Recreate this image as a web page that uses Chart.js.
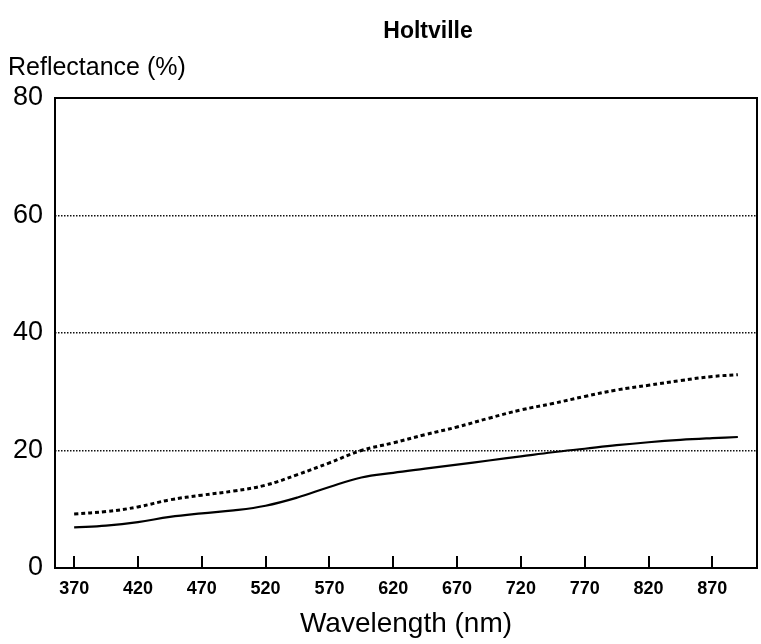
<!DOCTYPE html>
<html lang="en">
<head>
    <meta charset="UTF-8">
    <title>Holtville</title>
    <script src="https://cdn.jsdelivr.net/npm/chart.js"></script>
    <style>
        html, body { margin: 0; padding: 0; background: #fff; }
        #wrap { width: 761px; height: 644px; }
    </style>
</head>
<body>
    <div id="wrap"><canvas id="reflChart"></canvas></div>

    <script>
        // values
        const chartTitle = "Holtville";
        const yTitle = "Reflectance (%)";
        const xTitle = "Wavelength (nm)";
        const wavelengths = [370, 395, 420, 445, 470, 495, 520, 545, 570, 595, 620, 645, 670, 695, 720, 745, 770, 795, 820, 845, 870, 890];
        const solidValues = [6.9, 7.2, 7.8, 8.7, 9.3, 9.8, 10.6, 12.0, 13.8, 15.4, 16.2, 16.9, 17.6, 18.3, 19.0, 19.7, 20.3, 20.9, 21.4, 21.8, 22.1, 22.3];
        const dashedValues = [9.2, 9.6, 10.4, 11.6, 12.4, 13.1, 14.1, 15.9, 17.9, 20.0, 21.3, 22.7, 24.0, 25.5, 26.9, 28.0, 29.2, 30.3, 31.1, 31.9, 32.6, 32.9];
        const xTicks = [370, 420, 470, 520, 570, 620, 670, 720, 770, 820, 870];
        const yTicks = [0, 20, 40, 60, 80];

        const FONT = "'Liberation Sans', Arial, sans-serif";

        function toPoints(xs, ys) {
            return xs.map(function (x, i) { return { x: x, y: ys[i] }; });
        }

        // frame, inward x ticks and the two titles at the top
        const framePlugin = {
            id: "frame",
            afterDraw: function (chart) {
                let ctx = chart.ctx;
                let a = chart.chartArea;
                let xs = chart.scales.x;
                ctx.save();
                ctx.strokeStyle = "#000";
                ctx.lineWidth = 2;
                ctx.strokeRect(a.left, a.top, a.right - a.left, a.bottom - a.top);
                xTicks.forEach(function (t) {
                    let px = Math.round(xs.getPixelForValue(t));
                    ctx.beginPath();
                    ctx.moveTo(px, a.bottom);
                    ctx.lineTo(px, a.bottom - 12);
                    ctx.stroke();
                });
                ctx.fillStyle = "#000";
                ctx.textBaseline = "middle";
                ctx.textAlign = "center";
                ctx.font = "bold 23px " + FONT;
                ctx.fillText(chartTitle, 428, 32);
                ctx.textAlign = "left";
                ctx.font = "25px " + FONT;
                ctx.fillText(yTitle, 8, 68);
                ctx.restore();
            }
        };

        let ctx = document.getElementById("reflChart").getContext("2d");

        new Chart(ctx, {
            type: "line",
            data: {
                datasets: [{
                    label: "solid",
                    data: toPoints(wavelengths, solidValues),
                    borderColor: "#000",
                    borderWidth: 2.2,
                    pointRadius: 0,
                    tension: 0.4,
                    fill: false
                }, {
                    label: "dashed",
                    data: toPoints(wavelengths, dashedValues),
                    borderColor: "#000",
                    borderWidth: 3,
                    borderDash: [4, 3],
                    pointRadius: 0,
                    tension: 0.4,
                    fill: false
                }]
            },
            options: {
                responsive: true,
                maintainAspectRatio: false,
                animation: false,
                layout: { padding: { top: 98, right: 4, left: 0, bottom: 0 } },
                plugins: {
                    legend: { display: false },
                    tooltip: { enabled: false }
                },
                scales: {
                    x: {
                        type: "linear",
                        min: 355,
                        max: 905,
                        afterBuildTicks: function (axis) {
                            axis.ticks = xTicks.map(function (v) { return { value: v }; });
                        },
                        afterFit: function (axis) { axis.height = 76; },
                        grid: { display: false, drawTicks: false },
                        border: { display: false },
                        ticks: {
                            color: "#000",
                            padding: 10,
                            maxRotation: 0,
                            autoSkip: false,
                            font: { family: FONT, size: 18, weight: "bold" }
                        },
                        title: {
                            display: true,
                            text: xTitle,
                            color: "#000",
                            padding: { top: 0, bottom: 3 },
                            font: { family: FONT, size: 28 }
                        }
                    },
                    y: {
                        min: 0,
                        max: 80,
                        afterBuildTicks: function (axis) {
                            axis.ticks = yTicks.map(function (v) { return { value: v }; });
                        },
                        afterFit: function (axis) { axis.width = 55; },
                        grid: {
                            drawTicks: false,
                            lineWidth: 1.5,
                            color: function (c) {
                                let v = c.tick ? c.tick.value : null;
                                return (v === 0 || v === 80) ? "rgba(0,0,0,0)" : "#111";
                            }
                        },
                        border: { display: false, dash: [1.5, 1.5] },
                        ticks: {
                            color: "#000",
                            padding: 12,
                            font: { family: FONT, size: 27 }
                        }
                    }
                }
            },
            plugins: [framePlugin]
        });
    </script>
</body>
</html>
